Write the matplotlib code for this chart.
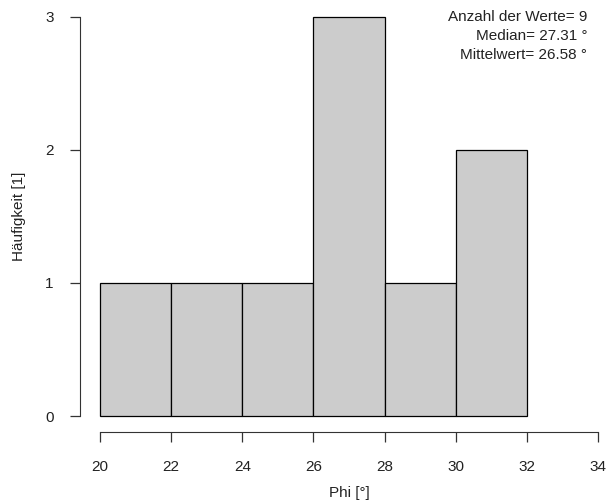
import matplotlib
matplotlib.use("Agg")
import matplotlib.pyplot as plt

plt.rcParams['font.family'] = ['Liberation Sans', 'DejaVu Sans']

bin_edges = [20, 22, 24, 26, 28, 30, 32]
counts = [1, 1, 1, 3, 1, 2]
x_ticks = [20, 22, 24, 26, 28, 30, 32, 34]
y_ticks = [0, 1, 2, 3]
info_lines = ["Anzahl der Werte= 9", "Median= 27.31 °", "Mittelwert= 26.58 °"]

fig = plt.figure(figsize=(6.09, 5.03), dpi=100)
ax = fig.add_axes([0.1314, 0.1412, 0.8834, 0.857])

lefts = bin_edges[:-1]
widths = [b - a for a, b in zip(bin_edges[:-1], bin_edges[1:])]
ax.bar(lefts, counts, width=widths, align='edge', color='#cccccc',
       edgecolor='black', linewidth=0.9)

# R-style axes: 4% padding, spines only over tick range
ax.set_xlim(20 - 0.04 * 14, 34 + 0.04 * 14)
ax.set_ylim(-0.12, 3.12)
for s in ['top', 'right']:
    ax.spines[s].set_visible(False)
ax.spines['left'].set_bounds(0, 3)
ax.spines['bottom'].set_bounds(20, 34)
ax.spines['left'].set_color('#333333')
ax.spines['bottom'].set_color('#333333')
ax.set_xticks(x_ticks)
ax.set_yticks(y_ticks)
ax.tick_params(length=7, width=0.9, color='#333333', labelsize=11, pad=13,
               labelcolor='#222222')
ax.tick_params(axis='y', pad=12)

ax.set_xlabel("Phi [°]", fontsize=11, labelpad=9, color='#222222')
ax.set_ylabel("Häufigkeit [1]", fontsize=11, labelpad=14, color='#222222')

# info text placed in pixel coordinates (top-left origin)
for i, line in enumerate(info_lines):
    ax.text(587, 503 - (17 + i * 19), line, transform=None, fontsize=11,
            ha='right', va='center', color='#222222')

fig.savefig("out.png", dpi=100)
